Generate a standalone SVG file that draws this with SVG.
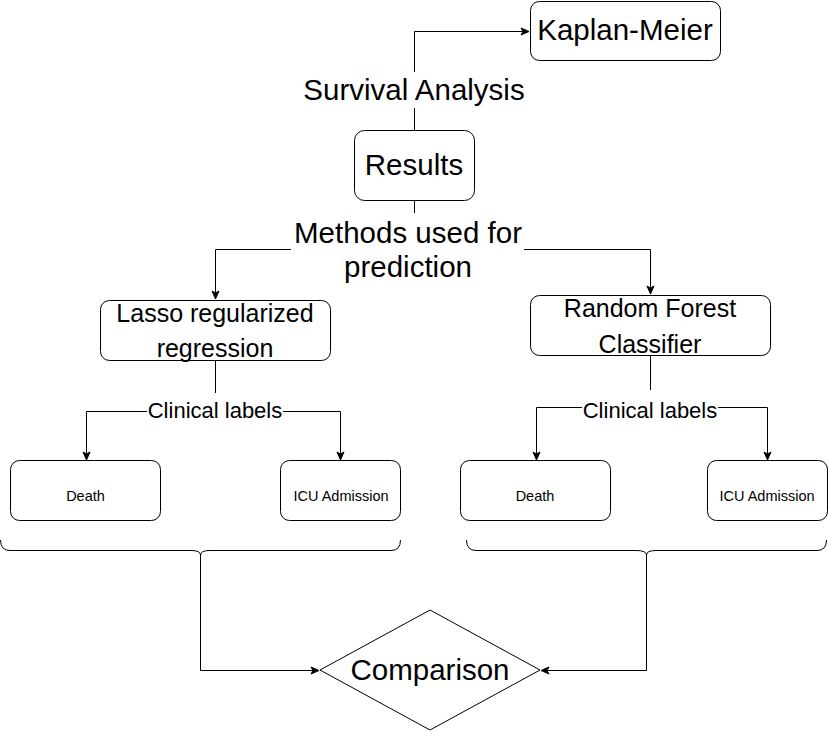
<svg xmlns="http://www.w3.org/2000/svg" width="828" height="731" viewBox="0 0 828 731">
<style>
.box{fill:#fff;stroke:#000;stroke-width:1}
.ln{fill:none;stroke:#000;stroke-width:1}
.t{font-family:"Liberation Sans",Arial,Helvetica,sans-serif;fill:#000;text-anchor:middle}
.big{font-size:29.5px}
.mid{font-size:25px}
.lab{font-size:22px}
.sm{font-size:14.5px}
.bg{fill:#fff;stroke:none}
</style>
<defs>
<marker id="arr" markerUnits="userSpaceOnUse" markerWidth="10" markerHeight="10" viewBox="0 0 10 10" refX="9" refY="5" orient="auto">
<path d="M1,1.5 L9,5 L1,8.5 L3,5 Z" fill="#000" stroke="#000" stroke-width="1"/>
</marker>
</defs>
<rect width="828" height="731" fill="#fff"/>
<g id="connectors">
<path class="ln" d="M414.5,130 V31.5 H529" marker-end="url(#arr)"/>
<path class="ln" d="M414.5,200 V249.5 H215.5 V299" marker-end="url(#arr)"/>
<path class="ln" d="M414.5,200 V249.5 H650.5 V294" marker-end="url(#arr)"/>
<path class="ln" d="M215.5,360 V411.5 H86.5 V460" marker-end="url(#arr)"/>
<path class="ln" d="M215.5,411.5 H340.5 V460" marker-end="url(#arr)"/>
<path class="ln" d="M650.5,355 V407.5 H536.5 V460" marker-end="url(#arr)"/>
<path class="ln" d="M650.5,407.5 H767.5 V460" marker-end="url(#arr)"/>
<path class="ln" d="M200.5,555 V670.5 H319" marker-end="url(#arr)"/>
<path class="ln" d="M646.5,555 V670.5 H541" marker-end="url(#arr)"/>
<rect class="bg" x="300" y="72" width="228" height="36"/>
<text class="t big" x="414" y="100">Survival Analysis</text>
<rect class="bg" x="291" y="213" width="233" height="72"/>
<text class="t big" x="408" y="243">Methods used for</text>
<text class="t big" x="408" y="277">prediction</text>
<rect class="bg" x="147" y="393" width="136" height="30"/>
<text class="t lab" x="215" y="418">Clinical labels</text>
<rect class="bg" x="582" y="390" width="136" height="30"/>
<text class="t lab" x="650" y="418">Clinical labels</text>
</g>
<g id="kaplan"><rect class="box" x="530.5" y="1.5" width="190" height="59" rx="9"/><text class="t big" x="625" y="40">Kaplan-Meier</text></g>
<g id="results"><rect class="box" x="354.5" y="130.5" width="120" height="70" rx="10"/><text class="t big" x="414" y="175">Results</text></g>
<g id="lasso"><rect class="box" x="100.5" y="300.5" width="230" height="60" rx="9"/><text class="t mid" x="215" y="322">Lasso regularized</text><text class="t mid" x="215" y="357">regression</text></g>
<g id="rf"><rect class="box" x="530.5" y="295.5" width="240" height="60" rx="9"/><text class="t mid" x="650" y="317">Random Forest</text><text class="t mid" x="650" y="353">Classifier</text></g>
<g id="death1"><rect class="box" x="10.5" y="460.5" width="150" height="60" rx="9"/><text class="t sm" x="85.5" y="501">Death</text></g>
<g id="icu1"><rect class="box" x="280.5" y="460.5" width="120" height="60" rx="9"/><text class="t sm" x="341" y="501">ICU Admission</text></g>
<g id="death2"><rect class="box" x="460.5" y="460.5" width="150" height="60" rx="9"/><text class="t sm" x="535" y="501">Death</text></g>
<g id="icu2"><rect class="box" x="707.5" y="460.5" width="120" height="60" rx="9"/><text class="t sm" x="767" y="501">ICU Admission</text></g>
<g id="brace1"><path class="ln" d="M0.5,540 Q0.5,550.5 10,550.5 H191 Q200.5,550.5 200.5,555 Q200.5,550.5 210,550.5 H391 Q400.5,550.5 400.5,540"/></g>
<g id="brace2"><path class="ln" d="M466.5,540 Q466.5,550.5 476,550.5 H636 Q646.5,550.5 646.5,555 Q646.5,550.5 656,550.5 H817 Q826.5,550.5 826.5,540"/></g>
<g id="comparison"><polygon class="box" points="430,610 540,670 430,730 320,670"/><text class="t big" x="430" y="680">Comparison</text></g>
</svg>
